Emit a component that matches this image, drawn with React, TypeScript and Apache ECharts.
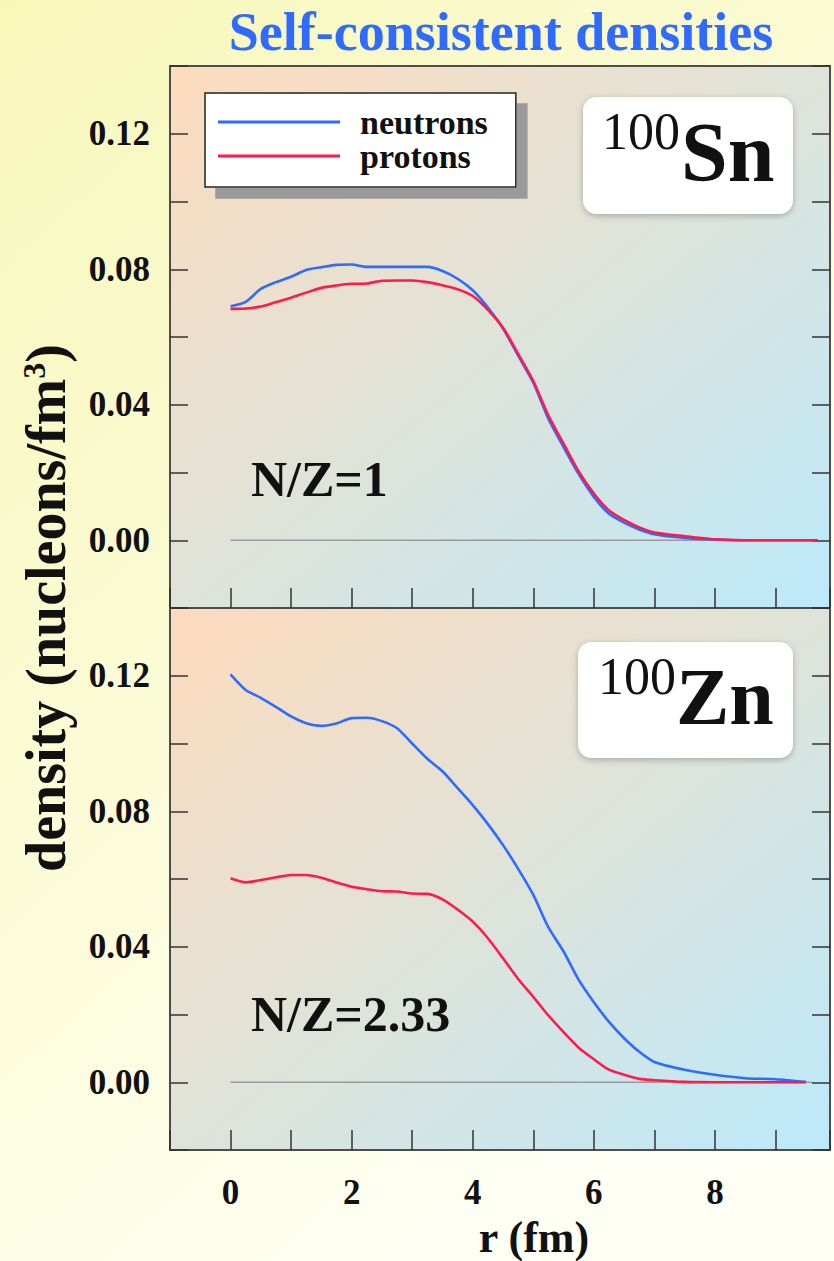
import React, { useEffect, useRef } from 'react';
import * as echarts from 'echarts';

// radius grid (fm)
const rGrid = [0, 0.25, 0.5, 0.75, 1, 1.25, 1.5, 1.75, 2, 2.25, 2.5, 2.75, 3, 3.25, 3.5, 3.75, 4, 4.25, 4.5, 4.75, 5, 5.25, 5.5, 5.75, 6, 6.25, 6.5, 6.75, 7, 7.5, 8, 8.5, 9, 9.5, 9.7];

// 100Sn densities (nucleons/fm^3)
const snNeutrons = [0.0691, 0.0704, 0.0742, 0.0762, 0.0778, 0.0798, 0.0806, 0.0813, 0.0814, 0.0807, 0.0807, 0.0807, 0.0807, 0.0807, 0.0795, 0.0772, 0.0738, 0.0687, 0.0625, 0.0545, 0.0465, 0.0358, 0.0275, 0.0195, 0.0128, 0.0078, 0.0052, 0.0032, 0.0018, 0.0007, 0.0002, 0, 0, 0, 0];
const snProtons = [0.0683, 0.0684, 0.069, 0.0703, 0.0716, 0.0731, 0.0745, 0.0752, 0.0757, 0.0758, 0.0766, 0.0767, 0.0767, 0.0762, 0.0753, 0.0741, 0.0721, 0.068, 0.0627, 0.055, 0.047, 0.0368, 0.0285, 0.0203, 0.0138, 0.0088, 0.006, 0.0038, 0.0023, 0.0012, 0.0003, 0, 0, 0, 0];

// 100Zn densities (nucleons/fm^3)
const znNeutrons = [0.1204, 0.1158, 0.1135, 0.1108, 0.108, 0.106, 0.1052, 0.1059, 0.1075, 0.1076, 0.1066, 0.1045, 0.1, 0.0955, 0.0918, 0.0868, 0.0818, 0.0762, 0.07, 0.063, 0.0553, 0.0457, 0.0386, 0.0302, 0.0236, 0.0178, 0.013, 0.009, 0.006, 0.0037, 0.0022, 0.0012, 0.0009, 0.0001, null];
const znProtons = [0.0602, 0.059, 0.0597, 0.0605, 0.0612, 0.0612, 0.0604, 0.059, 0.0577, 0.057, 0.0564, 0.0563, 0.0557, 0.0556, 0.054, 0.051, 0.0474, 0.0425, 0.0366, 0.0305, 0.0252, 0.0197, 0.0148, 0.0102, 0.0068, 0.0037, 0.0022, 0.001, 0.0006, 0.0001, 0, 0, 0, 0, null];

// zero reference line extent
const zeroLineR = [0, 9.6];

// axis settings
const xRange = [-1, 9.9];
const yRange = [-0.02, 0.14];
const xLabelValues = [0, 2, 4, 6, 8];

const FONT = 'Liberation Serif';
const BLUE = '#2f6bff';
const RED = '#ff1a4b';

function pairs(r: number[], v: (number | null)[]) {
  return r.map((x, i) => [x, v[i]]);
}

export default function App() {
  const ref = useRef<HTMLDivElement>(null);

  useEffect(() => {
    const chart = echarts.init(ref.current!, null, { renderer: 'svg' });

    const plotBg = new echarts.graphic.LinearGradient(0, 0, 1, 1, [
      { offset: 0, color: '#fddbbd' },
      { offset: 0.5, color: '#dfe3d9' },
      { offset: 1, color: '#bce9fb' },
    ]);
    const pageBg = new echarts.graphic.LinearGradient(0, 0, 0.6, 1, [
      { offset: 0, color: '#f7f7ba' },
      { offset: 0.6, color: '#fcfcdc' },
      { offset: 1, color: '#fffff6' },
    ]);

    const gridBase = {
      left: 170,
      width: 660,
      height: 542,
      show: true,
      backgroundColor: plotBg,
      borderColor: '#4d4d4d',
      borderWidth: 2,
      containLabel: false,
    };

    const tick = { show: true, inside: true, lineStyle: { color: '#333', width: 1.5 } };

    const xAxisBase = (gridIndex: number, showLabels: boolean) => ({
      type: 'value',
      gridIndex,
      position: 'bottom',
      min: xRange[0],
      max: xRange[1],
      interval: 1,
      axisLine: { show: false, onZero: false },
      axisTick: { ...tick, length: 20 },
      splitLine: { show: false },
      axisLabel: {
        show: showLabels,
        margin: 25,
        fontFamily: FONT,
        fontSize: 35,
        fontWeight: 'bold',
        color: '#111',
        formatter: (v: number) => (xLabelValues.some((t) => Math.abs(t - v) < 1e-9) ? String(v) : ''),
      },
    });

    const yAxisBase = (gridIndex: number, position: string) => ({
      type: 'value',
      gridIndex,
      position,
      min: yRange[0],
      max: yRange[1],
      interval: 0.02,
      axisLine: { show: false, onZero: false },
      axisTick: { ...tick, length: 18 },
      splitLine: { show: false },
      axisLabel: {
        show: position === 'left',
        margin: 20,
        fontFamily: FONT,
        fontSize: 35,
        fontWeight: 'bold',
        color: '#111',
        formatter: (v: number) => {
          const k = Math.round(v * 100);
          return k >= 0 && k % 4 === 0 && k <= 12 ? (k / 100).toFixed(2) : '';
        },
      },
    });

    const lineSeries = (name: string, color: string, data: any[], xi: number, yi: number) => ({
      name,
      type: 'line',
      xAxisIndex: xi,
      yAxisIndex: yi,
      data,
      showSymbol: false,
      symbol: 'none',
      smooth: 0.25,
      connectNulls: false,
      lineStyle: { color, width: 2.6 },
      itemStyle: { color },
      z: 3,
    });

    const zeroSeries = (xi: number, yi: number) => ({
      name: 'zero',
      type: 'line',
      xAxisIndex: xi,
      yAxisIndex: yi,
      data: zeroLineR.map((r) => [r, 0]),
      showSymbol: false,
      symbol: 'none',
      silent: true,
      lineStyle: { color: '#9a9a9a', width: 1.5 },
      z: 2,
    });

    const elementBox = (x: number, y: number, w: number, h: number) => ({
      type: 'rect',
      shape: { x, y, width: w, height: h, r: 14 },
      style: { fill: '#ffffff', shadowBlur: 6, shadowColor: 'rgba(0,0,0,0.25)', shadowOffsetY: 2 },
      z: 10,
    });

    const txt = (x: number, y: number, text: string, size: number, weight: string, extra: any = {}) => ({
      type: 'text',
      x,
      y,
      z: 11,
      style: {
        text,
        fill: '#111',
        fontFamily: FONT,
        fontSize: size,
        fontWeight: weight,
        align: 'left',
        verticalAlign: 'middle',
        ...extra,
      },
    });

    chart.setOption({
      animation: false,
      backgroundColor: pageBg,
      grid: [
        { ...gridBase, top: 66 },
        { ...gridBase, top: 608 },
      ],
      xAxis: [xAxisBase(0, false), xAxisBase(1, true)],
      yAxis: [yAxisBase(0, 'left'), yAxisBase(0, 'right'), yAxisBase(1, 'left'), yAxisBase(1, 'right')],
      legend: {
        data: [
          { name: 'neutrons', icon: 'rect' },
          { name: 'protons', icon: 'rect' },
        ],
        orient: 'vertical',
        left: 205,
        top: 93,
        selectedMode: false,
        backgroundColor: '#ffffff',
        borderColor: '#222',
        borderWidth: 1.5,
        padding: [12, 28, 14, 13],
        itemWidth: 122,
        itemHeight: 3,
        itemGap: 0,
        shadowColor: '#9a9a9a',
        shadowOffsetX: 11,
        shadowOffsetY: 11,
        shadowBlur: 0.1,
        textStyle: { fontFamily: FONT, fontSize: 34, fontWeight: 'bold', color: '#111', padding: [0, 0, 0, 15] },
      },
      series: [
        zeroSeries(0, 0),
        lineSeries('neutrons', BLUE, pairs(rGrid, snNeutrons), 0, 0),
        lineSeries('protons', RED, pairs(rGrid, snProtons), 0, 0),
        zeroSeries(1, 2),
        lineSeries('neutrons', BLUE, pairs(rGrid, znNeutrons), 1, 2),
        lineSeries('protons', RED, pairs(rGrid, znProtons), 1, 2),
      ],
      graphic: [
        txt(501, 32, 'Self-consistent densities', 54, 'bold', { fill: BLUE, align: 'center' }),
        {
          type: 'text',
          x: 46,
          y: 608,
          rotation: Math.PI / 2,
          z: 11,
          style: {
            text: 'density (nucleons/fm{s|3})',
            fill: '#111',
            fontFamily: FONT,
            fontSize: 56,
            fontWeight: 'bold',
            align: 'center',
            verticalAlign: 'middle',
            rich: {
              s: { fontFamily: FONT, fontSize: 32, fontWeight: 'bold', fill: '#111', verticalAlign: 'top', lineHeight: 56 },
            },
          },
        },
        txt(534, 1237, 'r (fm)', 44, 'bold', { align: 'center' }),
        elementBox(583, 97, 210, 117),
        txt(602, 131, '100', 52, 'normal'),
        txt(681, 152, 'Sn', 84, 'bold'),
        elementBox(578, 642, 215, 116),
        txt(598, 676, '100', 52, 'normal'),
        txt(676, 697, 'Zn', 80, 'bold'),
        txt(251, 479, 'N/Z=1', 50, 'bold'),
        txt(251, 1014, 'N/Z=2.33', 50, 'bold'),
      ],
    });

    return () => chart.dispose();
  }, []);

  return <div ref={ref} style={{ position: 'fixed', left: 0, top: 0, width: 834, height: 1261 }} />;
}
